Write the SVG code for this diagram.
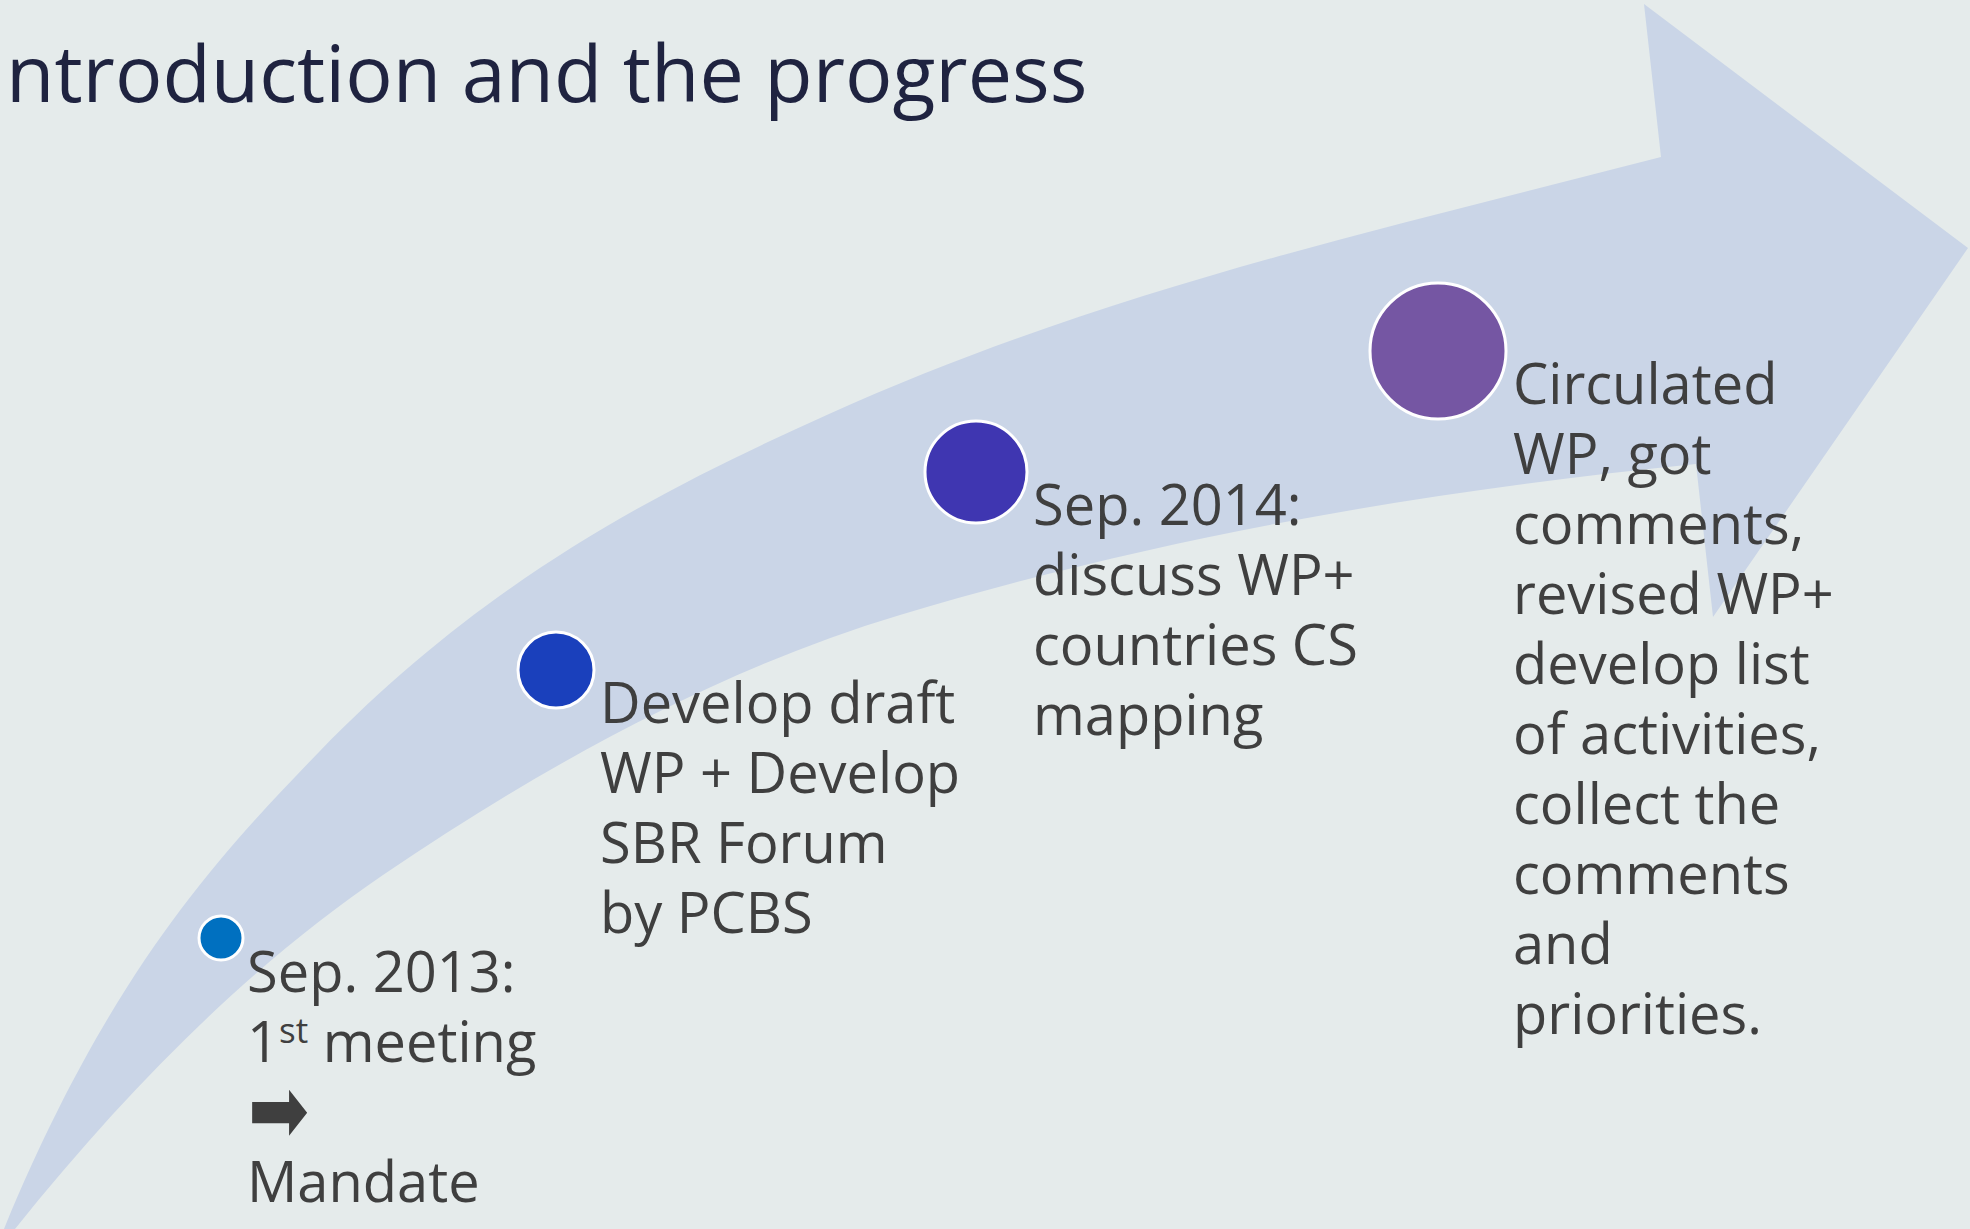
<svg xmlns="http://www.w3.org/2000/svg" width="1970" height="1229" viewBox="0 0 1970 1229">
<style>
.bg{fill:#E5EBEB}
.band{fill:#CAD5E7}
.title{font-family:"Open Sans","Liberation Sans",sans-serif;font-size:79px;fill:#1F2340}
.lbl{font-family:"Open Sans","Liberation Sans",sans-serif;font-size:56px;fill:#3F3F3F}
.dot{stroke:#FFFFFF;stroke-width:3}
.sym{font-family:"DejaVu Sans",sans-serif;font-size:64px;fill:#3F3F3F}
</style>
<rect class="bg" x="0" y="0" width="1970" height="1229"/>
<g id="arrow">
<path class="band" d="M4,1229 L6,1224 C110.3,973.7 214.7,859.4 319,752 C489,577 659,490.5 829,414 C1106.3,289.2 1383.7,229.1 1661,157 L1644,4 L1968,248 L1713,617 L1696,464 C1430.7,490.5 1165.3,535.4 900,615 C727.7,666.7 555.3,757.8 383,875 C260.3,958.4 137.7,1075.6 15,1229 Z"/>
</g>
<g id="title">
<text class="title" x="6" y="102">ntroduction and the progress</text>
</g>
<g id="node1">
<circle class="dot" cx="221" cy="938" r="22" fill="#0070C0"/>
<text class="lbl" x="247" y="992">Sep. 2013:</text>
<text class="lbl" x="247" y="1062">1<tspan font-size="35" dy="-19">st</tspan><tspan dy="19"> meeting</tspan></text>
<text class="sym" transform="translate(248,1110) scale(1.14,1.45)" x="0" y="22">➡</text>
<text class="lbl" x="247" y="1202">Mandate</text>
</g>
<g id="node2">
<circle class="dot" cx="556" cy="670" r="38" fill="#1A40BC"/>
<text class="lbl" x="600" y="723">Develop draft</text>
<text class="lbl" x="600" y="793">WP + Develop</text>
<text class="lbl" x="600" y="863">SBR Forum</text>
<text class="lbl" x="600" y="933">by PCBS</text>
</g>
<g id="node3">
<circle class="dot" cx="976" cy="472" r="51" fill="#3F36B1"/>
<text class="lbl" x="1033" y="525">Sep. 2014:</text>
<text class="lbl" x="1033" y="595">discuss WP+</text>
<text class="lbl" x="1033" y="665">countries CS</text>
<text class="lbl" x="1033" y="735">mapping</text>
</g>
<g id="node4">
<circle class="dot" cx="1438" cy="351" r="68" fill="#7556A3"/>
<text class="lbl" x="1513" y="404">Circulated</text>
<text class="lbl" x="1513" y="474">WP, got</text>
<text class="lbl" x="1513" y="544">comments,</text>
<text class="lbl" x="1513" y="614">revised WP+</text>
<text class="lbl" x="1513" y="684">develop list</text>
<text class="lbl" x="1513" y="754">of activities,</text>
<text class="lbl" x="1513" y="824">collect the</text>
<text class="lbl" x="1513" y="894">comments</text>
<text class="lbl" x="1513" y="964">and</text>
<text class="lbl" x="1513" y="1034">priorities.</text>
</g>
<g id="connectors"></g>
</svg>
